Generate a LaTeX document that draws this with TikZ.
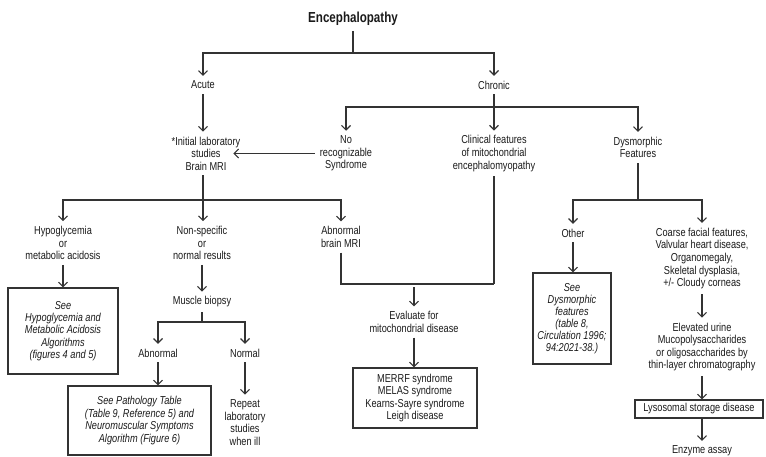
\documentclass[tikz,border=0pt]{standalone}
\usepackage{fontspec}
\setmainfont{Liberation Sans}[FakeStretch=0.80]
\usetikzlibrary{arrows.meta}
\definecolor{ln}{HTML}{333333}
\definecolor{tx}{HTML}{1A1A1A}
\begin{document}
\begin{tikzpicture}[x=1pt,y=-1pt,
  txt/.style={align=center,inner sep=2pt,outer sep=3pt,text=tx,font=\fontsize{11.5}{12.6}\selectfont},
  boxn/.style={draw=ln,line width=1.1pt,align=center,inner sep=3pt,text=tx,font=\fontsize{11.5}{12.6}\selectfont},
  conn/.style={draw=ln,line width=1.1pt},
  arr/.style={conn,-{Straight Barb[length=4.5pt,width=9pt,line width=1.1pt]}}]
\useasboundingbox (0,0) rectangle (766,457);
% nodes
\node[txt,font=\bfseries\fontsize{14.5}{16}\selectfont] (title) at (353,19) {Encephalopathy};
\node[txt] (acute) at (203,85) {Acute};
\node[txt] (chronic) at (494,85) {Chronic};
\node[txt] (init) at (206,153.5) {*Initial laboratory\\studies\\Brain MRI};
\node[txt] (norec) at (346,153.5) {No\\recognizable\\Syndrome};
\node[txt] (clin) at (494,153.5) {Clinical features\\of mitochondrial\\encephalomyopathy};
\node[txt] (dysm) at (638,147.5) {Dysmorphic\\Features};
\node[txt] (hypo) at (63,243) {Hypoglycemia\\or\\metabolic acidosis};
\node[txt] (nonspec) at (202,243) {Non-specific\\or\\normal results};
\node[txt] (abnmri) at (341,237) {Abnormal\\brain MRI};
\node[txt] (other) at (573,233) {Other};
\node[txt] (coarse) at (702,258.5) {Coarse facial features,\\Valvular heart disease,\\Organomegaly,\\Skeletal dysplasia,\\+/- Cloudy corneas};
\node[boxn,minimum width=110pt,minimum height=86pt,font=\itshape\fontsize{11.5}{12.4}\selectfont] (hypobox) at (63,331) {See\\Hypoglycemia and\\Metabolic Acidosis\\Algorithms\\(figures 4 and 5)};
\node[txt] (muscle) at (202,302) {Muscle biopsy};
\node[txt] (abn) at (158,353) {Abnormal};
\node[txt] (normal) at (245,353) {Normal};
\node[boxn,minimum width=143pt,minimum height=69pt,font=\itshape\fontsize{11.5}{12.4}\selectfont] (pathbox) at (139.5,420.5) {See Pathology Table\\(Table 9, Reference 5) and\\Neuromuscular Symptoms\\Algorithm (Figure 6)};
\node[txt] (repeat) at (245,422.5) {Repeat\\laboratory\\studies\\when ill};
\node[txt] (eval) at (414,322) {Evaluate for\\mitochondrial disease};
\node[boxn,minimum width=124pt,minimum height=60pt] (merrf) at (415,398) {MERRF syndrome\\MELAS syndrome\\Kearns-Sayre syndrome\\Leigh disease};
\node[boxn,minimum width=78pt,minimum height=91pt,font=\itshape\fontsize{11.5}{12}\selectfont] (dysbox) at (572,318.5) {See\\Dysmorphic\\features\\(table 8,\\Circulation 1996;\\94:2021-38.)};
\node[txt] (elev) at (702,347) {Elevated urine\\Mucopolysaccharides\\or oligosaccharides by\\thin-layer chromatography};
\node[boxn,minimum width=128pt,minimum height=18pt,inner sep=1pt] (lyso) at (699,409) {Lysosomal storage disease};
\node[txt] (enzyme) at (702,451) {Enzyme assay};
% bus coordinates
\coordinate (b1) at (353,53);
\coordinate (b2) at (494,107);
\coordinate (b3) at (203,200);
\coordinate (b4) at (202,322);
\coordinate (b5) at (341,284);
\coordinate (b6) at (494,284);
\coordinate (b7) at (414,284);
\coordinate (b8) at (638,200);
% connectors
\draw[conn] (title.south) -- (b1);
\draw[arr] (b1) -| (acute);
\draw[arr] (b1) -| (chronic);
\draw[arr] (acute) -- (acute |- init.north);
\draw[conn] (chronic) -- (b2);
\draw[arr] (b2) -| (norec);
\draw[arr] (b2) -- (clin);
\draw[arr] (b2) -| (dysm);
\draw[arr,shorten >=-12pt] (norec.west) -- (init.east |- norec.west);
\draw[conn] (init.south -| b3) -- (b3);
\draw[arr] (b3) -| (hypo);
\draw[arr] (b3) -- (b3 |- nonspec.north);
\draw[arr] (b3) -| (abnmri);
\draw[arr] (hypo) -- (hypobox);
\draw[arr] (nonspec) -- (muscle);
\draw[conn] (muscle) -- (b4);
\draw[arr] (b4) -| (abn);
\draw[arr] (b4) -| (normal);
\draw[arr] (abn) -- (abn |- pathbox.north);
\draw[arr] (normal) -- (repeat);
\draw[conn] (abnmri) -- (b5) -- (b6);
\draw[conn] (clin) -- (b6);
\draw[arr,shorten <=3pt] (b7) -- (eval);
\draw[arr] (eval) -- (eval |- merrf.north);
\draw[conn] (dysm) -- (b8);
\draw[arr] (b8) -| (other);
\draw[arr] (b8) -| (coarse);
\draw[arr] (other) -- (other |- dysbox.north);
\draw[arr] (coarse) -- (elev);
\draw[arr] (elev) -- (elev |- lyso.north);
\draw[arr] (elev |- lyso.south) -- (enzyme);
\end{tikzpicture}
\end{document}
